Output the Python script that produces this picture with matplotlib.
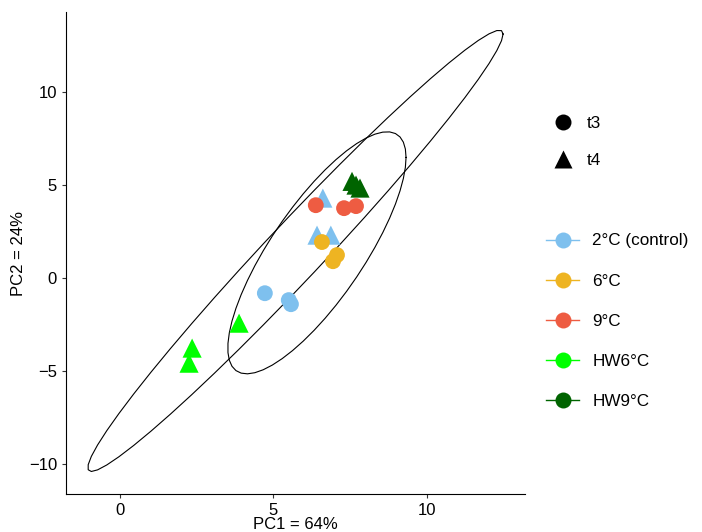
import numpy as np
from matplotlib import pyplot as plt
from matplotlib.lines import Line2D

plt.rcParams['font.family'] = ['Liberation Sans', 'DejaVu Sans']

# PCA scores
groups = ['2°C (control)', '6°C', '9°C', 'HW6°C', 'HW9°C']
colors = ['#7EC0EE', '#EEB422', '#EE5C42', '#00FF00', '#006400']

# t3 (circles)
t3_group = [0, 0, 0, 1, 1, 1, 2, 2, 2]
t3_pc1 = [4.72, 5.50, 5.57, 6.58, 7.07, 6.94, 6.38, 7.30, 7.69]
t3_pc2 = [-0.81, -1.18, -1.40, 1.94, 1.24, 0.91, 3.92, 3.76, 3.87]

# t4 (triangles)
t4_group = [0, 0, 0, 4, 4, 4, 3, 3, 3]
t4_pc1 = [6.61, 6.42, 6.87, 7.56, 7.69, 7.82, 2.35, 2.25, 3.88]
t4_pc2 = [4.30, 2.31, 2.31, 5.20, 5.00, 4.84, -3.76, -4.57, -2.42]


def norm_ellipse(xs, ys, level=0.95, segments=51):
    # same construction as ggplot2 stat_ellipse(type = "norm")
    pts = np.column_stack([xs, ys])
    center = pts.mean(axis=0)
    shape = np.cov(pts.T)
    dfn, dfd = 2, len(pts) - 1
    q = dfd / 2 * ((1 - level) ** (-2 / dfd) - 1)  # qf for dfn = 2
    radius = np.sqrt(dfn * q)
    ang = np.linspace(0, 2 * np.pi, segments + 1)
    circ = np.column_stack([np.cos(ang), np.sin(ang)])
    chol = np.linalg.cholesky(shape).T
    return center + radius * circ @ chol


fig = plt.figure(figsize=(7.02, 5.32), dpi=100)
ax = fig.add_axes([0.094, 0.0714, 0.654, 0.906])

for xs, ys in [(t3_pc1, t3_pc2), (t4_pc1, t4_pc2)]:
    e = norm_ellipse(xs, ys)
    ax.plot(e[:, 0], e[:, 1], color='black', lw=0.8)

ax.scatter(t4_pc1, t4_pc2, c=[colors[g] for g in t4_group], marker='^',
           s=190, linewidths=0, zorder=3)
ax.scatter(t3_pc1, t3_pc2, c=[colors[g] for g in t3_group], marker='o',
           s=130, linewidths=0, zorder=3)

ax.set_xlim(-1.76, 13.2)
ax.set_ylim(-11.6, 14.3)
ax.set_xticks([0, 5, 10])
ax.set_yticks([-10, -5, 0, 5, 10])
ax.set_yticklabels(['\u221210', '\u22125', '0', '5', '10'])
ax.tick_params(labelsize=12, length=3, width=0.8, colors='#333333',
               labelcolor='black')
for s in ['top', 'right']:
    ax.spines[s].set_visible(False)
ax.set_xlabel('PC1 = 64%', fontsize=12, labelpad=-1)
ax.set_ylabel('PC2 = 24%', fontsize=12, labelpad=2)

shape_handles = [
    Line2D([], [], ls='none', marker='o', ms=11.5, color='black', mec='none'),
    Line2D([], [], ls='none', marker='^', ms=13, color='black', mec='none'),
]
leg1 = fig.legend(shape_handles, ['t3', 't4'], loc='upper left',
                  bbox_to_anchor=(0.7657, 0.81), frameon=False, fontsize=12.3,
                  handlelength=1.2, handletextpad=0.78, labelspacing=1.27)

color_handles = [Line2D([], [], color=c, lw=1, marker='o', ms=11.5,
                        mec='none') for c in colors]
leg2 = fig.legend(color_handles, groups, loc='upper left',
                  bbox_to_anchor=(0.7565, 0.59), frameon=False, fontsize=12.3,
                  handlelength=1.93, handletextpad=0.76, labelspacing=1.47)

fig.savefig('out.png', dpi=100)
